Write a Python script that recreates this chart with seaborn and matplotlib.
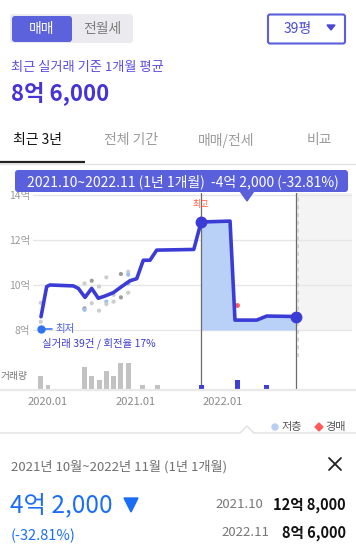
import numpy as np
import pandas as pd
import seaborn as sns
import matplotlib.pyplot as plt
from matplotlib.patches import FancyBboxPatch, Polygon, Circle

# months counted from 2020.01 (= 0), prices in 억
line_month = [-0.96, -0.18, 0.27, 3.47, 4.16, 5.08, 5.99, 6.9, 7.82, 8.96, 10.1, 11.25,
              12.17, 13.07, 13.99, 14.91, 20.0, 21.0, 24.97, 25.65, 28.63, 30.0, 34.0]
line_price = [8.59, 9.93, 10.0, 9.96, 9.85, 9.45, 9.85, 9.41, 9.51, 9.66, 9.93, 10.19,
              10.28, 11.1, 11.1, 11.55, 11.58, 12.8, 12.84, 8.44, 8.44, 8.62, 8.6]

trade_month = [-1, -1, 5, 5, 5, 6, 6, 7, 7, 8, 8, 8, 9, 9, 10, 10, 11, 11, 11, 11]
trade_price = [9.21, 8.37, 10.07, 8.96, 8.9, 10.19, 9.19, 9.93, 8.86, 10.34, 9.26, 9.15,
               9.56, 9.26, 10.49, 9.45, 10.59, 10.46, 10.07, 9.66]
trade_kind = ['일반', '일반', '일반', '진한', '저층', '진한', '일반', '일반', '일반', '일반',
              '저층', '일반', '일반', '일반', '진한', '진한', '일반', '저층', '저층', '일반']

auction_month = [25.9]
auction_price = [9.11]

vol_month = [-1, 0, 5, 6, 7, 8, 9, 10, 11, 13, 15, 21, 26, 30]
vol_count = [3, 1, 5, 3, 2, 4, 3, 6, 6, 1, 1, 1, 2, 1]
vol_group = ['past'] * 11 + ['sel'] * 3

xtick_month = [0, 12, 24]
xtick_label = ['2020.01', '2021.01', '2022.01']
ytick_val = [8, 10, 12, 14]
ytick_label = ['8억', '10억', '12억', '14억']

start_month, end_month = 21, 34
start_price, end_price = 12.8, 8.6

LINE = '#3b3bd6'
UI = '#5a5fdc'

sns.set_theme(style='white')
plt.rcParams['font.family'] = ['Noto Sans CJK KR', 'DejaVu Sans']

W, H = 356, 553
fig = plt.figure(figsize=(W / 100, H / 100), dpi=100)
fig.patch.set_facecolor('white')


def box(x0, y0, x1, y1):
    return [x0 / W, 1 - y1 / H, (x1 - x0) / W, (y1 - y0) / H]


# main chart, pixel 33..352 x 193..389
ax = fig.add_axes(box(33, 193, 352, 389))
xl = ((33 - 48) / 7.29, (352 - 48) / 7.29)
yl = (8 - 59 / 22.5, 8 + 137 / 22.5)
ax.set_xlim(xl)
ax.set_ylim(yl)
for s in ax.spines.values():
    s.set_visible(False)

ax.fill_between([end_month, xl[1]], 8, yl[1], color='#f4f4f4', lw=0, zorder=0)
for v in ytick_val:
    ax.axhline(v, color='#e6e6e6', lw=1, zorder=1)
ax.set_yticks(ytick_val)
ax.set_yticklabels(ytick_label)
ax.set_xticks(xtick_month)
ax.set_xticklabels(xtick_label)
ax.tick_params(axis='y', length=0, pad=2, labelsize=7.5, labelcolor='#9a9a9a')
ax.tick_params(axis='x', length=0, pad=6, labelsize=8, labelcolor='#8a8a8a')

df = pd.DataFrame({'m': line_month, 'p': line_price})
sel = df[(df.m >= start_month) & (df.m <= end_month)]
ax.fill_between(sel.m, sel.p, 8, color='#b9d1f6', lw=0, zorder=2)

ax.axvline(start_month, color='#6b6b6b', lw=0.9, zorder=3)
ax.axvline(end_month, color='#6b6b6b', lw=0.9, zorder=3)
ax.axvline(end_month + 0.3, ymin=(389 - 357) / 196, color='#d2d2d2', lw=1.4,
           ls=(0, (2, 2)), zorder=3)

tdf = pd.DataFrame({'m': trade_month, 'p': trade_price, 'k': trade_kind})
sns.scatterplot(data=tdf, x='m', y='p', hue='k', ax=ax, s=9, linewidth=0, legend=False,
                palette={'일반': '#cdcdcd', '진한': '#9c9c9c', '저층': '#9dbff0'}, zorder=4)
ax.scatter(auction_month, auction_price, s=6, color='#ff5b5b', zorder=4)

sns.lineplot(data=df, x='m', y='p', ax=ax, color=LINE, lw=2.6, zorder=5,
             solid_joinstyle='round', solid_capstyle='round')
ax.plot([start_month, end_month], [start_price, end_price], 'o', ms=7.5, color=LINE, zorder=6)
ax.set_xlabel('')
ax.set_ylabel('')

ax.annotate('최고', xy=(start_month, start_price), xytext=(0, 12.5), textcoords='offset points',
            ha='center', va='center', fontsize=6.5, color='#ff5a36',
            arrowprops=dict(arrowstyle='-', color='#ff5a36', lw=0.7, shrinkA=3, shrinkB=4))
ax.plot([-1, 0.5], [8.03, 8.03], color='#3d7bf0', lw=1.2, zorder=6, clip_on=False)
ax.plot([-1], [8.03], 'o', ms=5, color='#2f73f0', zorder=6, clip_on=False)
ax.text(0.95, 8.03, '최저', fontsize=7.5, color='#4a5ee6', va='center', ha='left')

# volume bars, pixel 355..389
axv = fig.add_axes(box(33, 355, 352, 389))
axv.patch.set_alpha(0)
vdf = pd.DataFrame({'m': vol_month, 'c': vol_count, 'g': vol_group})
vcol = vdf.g.map({'past': '#c2c2c2', 'sel': '#3f3fd6'})
axv.bar(vdf.m, vdf.c, width=0.68, color=vcol, lw=0)
axv.set_xlim(xl)
axv.set_ylim(0, 34 / 4.4)
axv.axis('off')

# overlay in pixel coordinates for the surrounding UI
ov = fig.add_axes([0, 0, 1, 1])
ov.set_xlim(0, W)
ov.set_ylim(H, 0)
ov.axis('off')


def rbox(x, y, w, h, fc, ec='none', lw=0, r=3):
    ov.add_patch(FancyBboxPatch((x, y), w, h, boxstyle=f'round,pad=0,rounding_size={r}',
                                fc=fc, ec=ec, lw=lw))


rbox(10, 14, 123, 29, '#ebebef')
rbox(12, 16, 60, 26, '#5b62dc')
ov.text(42, 29, '매매', color='white', fontsize=10, ha='center', va='center')
ov.text(102, 29, '전월세', color='#7a7a7a', fontsize=10, ha='center', va='center')
rbox(268, 14.5, 77, 29, 'white', UI, 1.5, 2)
ov.text(298, 29.5, '39평', color='#4a4ad0', fontsize=10, ha='center', va='center')
ov.add_patch(Polygon([(327, 25), (335, 25), (331, 30)], color='#4a4ad0'))

ov.text(11, 68, '최근 실거래 기준 1개월 평균', color='#5b4de4', fontsize=9.5, va='center')
ov.text(11, 93, '8억 6,000', color='#4634d6', fontsize=16, fontweight='bold', va='center')

ov.text(13, 140, '최근 3년', color='#111111', fontsize=10, va='center')
ov.text(131, 140, '전체 기간', color='#9a9a9a', fontsize=10, va='center', ha='center')
ov.text(226, 140, '매매/전세', color='#9a9a9a', fontsize=10, va='center', ha='center')
ov.text(319, 140, '비교', color='#9a9a9a', fontsize=10, va='center', ha='center')
ov.plot([0, 356], [163.5, 163.5], color='#e3e3e3', lw=1)
ov.plot([0, 85], [162, 162], color='#222222', lw=1.6, solid_capstyle='butt')

rbox(15, 170, 333, 22, UI)
ov.add_patch(Polygon([(240, 191), (254, 191), (247, 201)], color=UI))
ov.text(183, 181.5, '2021.10~2022.11 (1년 1개월)  -4억 2,000 (-32.81%)', color='white',
        fontsize=10, ha='center', va='center')

ov.text(1, 376, '거래량', color='#777777', fontsize=7, va='center')
ov.text(42, 343, '실거래 39건 / 회전율 17%', color='#3c3cd0', fontsize=7.5, va='center')
ov.plot([0, 356], [389.5, 389.5], color='#e9e9e9', lw=1.6)

ov.add_patch(Circle((275, 427), 3, color='#b6cff2'))
ov.text(281, 427, '저층', color='#555555', fontsize=8, va='center')
ov.add_patch(Polygon([(319, 423), (323, 427), (319, 431), (315, 427)], color='#ff5b5b'))
ov.text(325, 427, '경매', color='#555555', fontsize=8, va='center')
ov.plot([0, 240, 247, 254, 356], [433, 433, 426, 433, 433], color='#e0e0e0', lw=1)

ov.text(11, 467, '2021년 10월~2022년 11월 (1년 1개월)', color='#6f6f6f', fontsize=9.5, va='center')
ov.plot([329, 341], [458, 470], color='#222222', lw=1.3)
ov.plot([341, 329], [458, 470], color='#222222', lw=1.3)
ov.text(10, 505, '4억 2,000', color='#1b6ef3', fontsize=17.5, va='center')
ov.add_patch(Polygon([(124, 498), (138, 498), (131, 512)], color='#1b6ef3'))
ov.text(11, 536, '(-32.81%)', color='#1b6ef3', fontsize=10.5, va='center')
ov.text(263, 505, '2021.10', color='#777777', fontsize=9.5, va='center', ha='right')
ov.text(346, 505, '12억 8,000', color='#111111', fontsize=10.5, fontweight='bold',
        va='center', ha='right')
ov.text(269, 533, '2022.11', color='#777777', fontsize=9.5, va='center', ha='right')
ov.text(346, 533, '8억 6,000', color='#111111', fontsize=10.5, fontweight='bold',
        va='center', ha='right')

fig.savefig('out.png', dpi=100, facecolor='white')
